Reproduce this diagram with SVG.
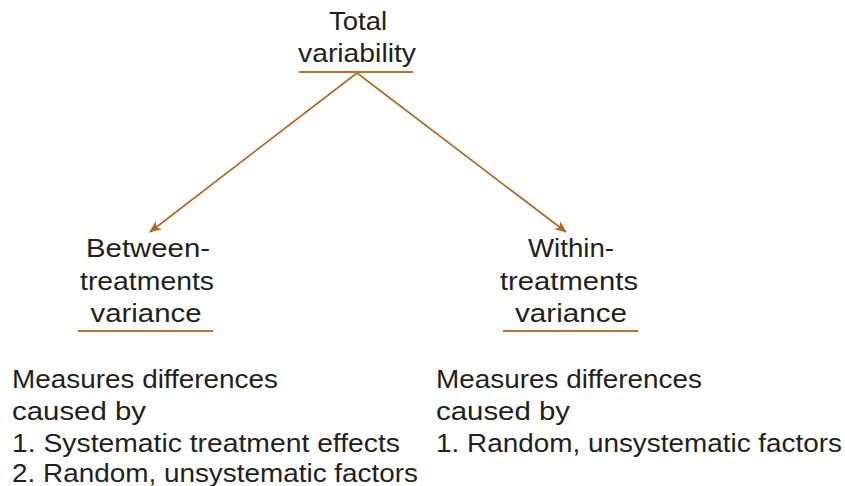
<svg xmlns="http://www.w3.org/2000/svg" width="845" height="486" viewBox="0 0 845 486">
<defs>
<style>
text{font-family:"Liberation Sans","DejaVu Sans",sans-serif;font-size:25px;fill:#231f20}
.c{text-anchor:middle}
.u{stroke:#c0702a;stroke-width:2}
.e{stroke:#b5651d;stroke-width:1.6;fill:none}
</style>
<marker id="ah" markerWidth="12" markerHeight="10" refX="11" refY="5" orient="auto" markerUnits="userSpaceOnUse">
<path d="M0,0 L12,5 L0,10 L3,5 Z" fill="#b5651d"/>
</marker>
</defs>
<rect width="845" height="486" fill="#fff"/>
<g id="connectors">
<line class="e" x1="357" y1="73" x2="150" y2="232" marker-end="url(#ah)"/>
<line class="e" x1="357" y1="73" x2="566" y2="232" marker-end="url(#ah)"/>
</g>
<g id="total">
<text class="c" x="358" y="30" textLength="58" lengthAdjust="spacingAndGlyphs">Total</text>
<text class="c" x="357" y="62" textLength="118" lengthAdjust="spacingAndGlyphs">variability</text>
<line class="u" x1="299" y1="72" x2="413" y2="72"/>
</g>
<g id="between">
<text class="c" x="148" y="257" textLength="124" lengthAdjust="spacingAndGlyphs">Between-</text>
<text class="c" x="147" y="290" textLength="134" lengthAdjust="spacingAndGlyphs">treatments</text>
<text class="c" x="146" y="322" textLength="111" lengthAdjust="spacingAndGlyphs">variance</text>
<line class="u" x1="78" y1="331" x2="213" y2="331"/>
</g>
<g id="within">
<text class="c" x="571" y="257" textLength="86" lengthAdjust="spacingAndGlyphs">Within-</text>
<text class="c" x="569" y="290" textLength="138" lengthAdjust="spacingAndGlyphs">treatments</text>
<text class="c" x="571" y="322" textLength="112" lengthAdjust="spacingAndGlyphs">variance</text>
<line class="u" x1="503" y1="331" x2="638" y2="331"/>
</g>
<g id="between-desc">
<text x="12" y="388" textLength="266" lengthAdjust="spacingAndGlyphs">Measures differences</text>
<text x="12" y="420" textLength="134" lengthAdjust="spacingAndGlyphs">caused by</text>
<text x="12" y="452" textLength="388" lengthAdjust="spacingAndGlyphs">1. Systematic treatment effects</text>
<text x="12" y="482" textLength="406" lengthAdjust="spacingAndGlyphs">2. Random, unsystematic factors</text>
</g>
<g id="within-desc">
<text x="436" y="388" textLength="266" lengthAdjust="spacingAndGlyphs">Measures differences</text>
<text x="436" y="420" textLength="134" lengthAdjust="spacingAndGlyphs">caused by</text>
<text x="436" y="452" textLength="406" lengthAdjust="spacingAndGlyphs">1. Random, unsystematic factors</text>
</g>
</svg>
